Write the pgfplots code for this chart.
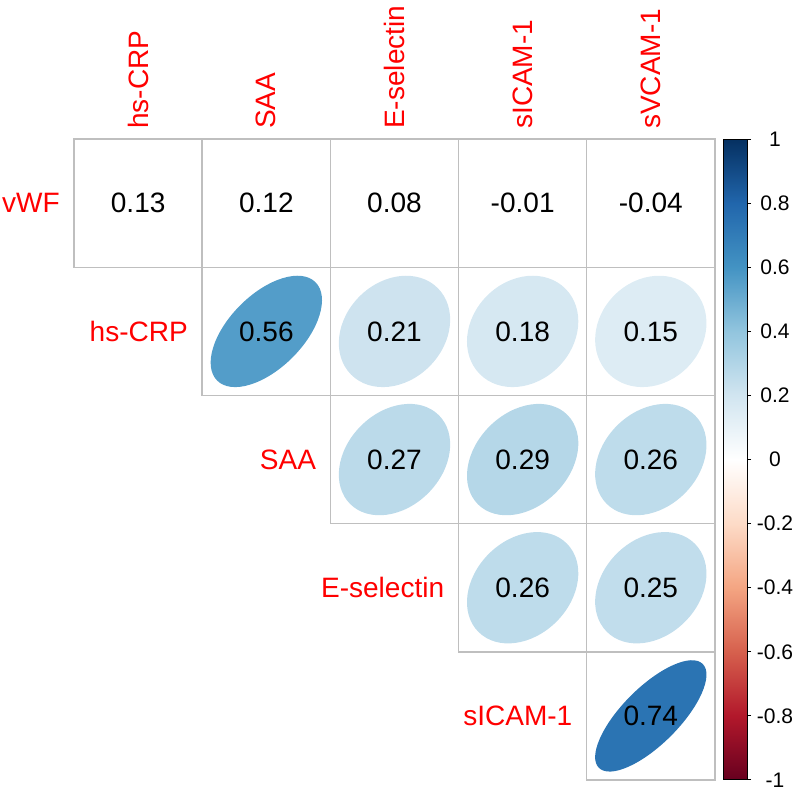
\documentclass[border=0pt]{standalone}
\usepackage{pgfplots}
\pgfplotsset{compat=1.18}
\usepackage{pgfplotstable}
\usepackage{fontspec}
\setmainfont{Liberation Sans}

% corrplot-like ellipse: semi-axes s*sqrt(1+r), s*sqrt(1-r), tilted 45 deg
% r is recovered from the mapped point meta (0..1000 for -1..1)
\pgfdeclareplotmark{corrEllipse}{{%
  \pgfmathsetmacro\rr{\pgfplotspointmetatransformed/500-1}%
  \pgfmathsetmacro\ea{27.8*sqrt(1+\rr)}%
  \pgfmathsetmacro\eb{27.8*sqrt(1-\rr)}%
  \pgftransformrotate{45}%
  \pgfpathellipse{\pgfpointorigin}{\pgfpoint{\ea pt}{0pt}}{\pgfpoint{0pt}{\eb pt}}%
  \pgfusepathqfill}}

% all cells of the upper triangle (cell centres, coefficient)
\pgfplotstableread{
x y r
0.5 0.5 0.13
1.5 0.5 0.12
2.5 0.5 0.08
3.5 0.5 -0.01
4.5 0.5 -0.04
1.5 1.5 0.56
2.5 1.5 0.21
3.5 1.5 0.18
4.5 1.5 0.15
2.5 2.5 0.27
3.5 2.5 0.29
4.5 2.5 0.26
3.5 3.5 0.26
4.5 3.5 0.25
4.5 4.5 0.74
}\cells

% cells that carry an ellipse
\pgfplotstableread{
x y r
1.5 1.5 0.56
2.5 1.5 0.21
3.5 1.5 0.18
4.5 1.5 0.15
2.5 2.5 0.27
3.5 2.5 0.29
4.5 2.5 0.26
3.5 3.5 0.26
4.5 3.5 0.25
4.5 4.5 0.74
}\ells

\pgfplotstableread{
x y label
0 0.5 vWF
1 1.5 hs-CRP
2 2.5 SAA
3 3.5 E-selectin
4 4.5 sICAM-1
}\rowlabels

\pgfplotstableread{
x y label
0.5 0 hs-CRP
1.5 0 SAA
2.5 0 E-selectin
3.5 0 sICAM-1
4.5 0 sVCAM-1
}\collabels

\begin{document}
\begin{tikzpicture}
\begin{axis}[
  name=main,
  x=64pt, y=64pt,
  xmin=0, xmax=5, ymin=0, ymax=5,
  y dir=reverse,
  hide axis, clip=false,
  colormap={RdBu}{rgb255=(103,0,31) rgb255=(178,24,43) rgb255=(214,96,77)
    rgb255=(244,165,130) rgb255=(253,219,199) rgb255=(255,255,255)
    rgb255=(209,229,240) rgb255=(146,197,222) rgb255=(67,147,195)
    rgb255=(33,102,172) rgb255=(5,48,97)},
  point meta min=-1, point meta max=1,
  colorbar right,
  colorbar style={
    width=11.5pt,
    at={(parent axis.north east)}, anchor=north west, xshift=-4pt,
    ytick={-1,-0.8,-0.6,-0.4,-0.2,0,0.2,0.4,0.6,0.8,1},
    ytick pos=right, tick align=outside, major tick length=2pt,
    tick style={black, line width=0.5pt},
    axis line style={black, line width=0.5pt},
    yticklabel style={font=\fontsize{10.5}{12}\selectfont,
      /pgf/number format/assume math mode=true, anchor=center, xshift=12pt},
  },
]
% cell borders
\addplot[only marks, mark=square, mark size=32pt,
  mark options={draw=black!25, line width=0.75pt, fill=none}]
  table[x=x, y=y]{\cells};
% ellipses
\addplot[scatter, only marks, mark=corrEllipse,
  scatter/use mapped color={draw=none, fill=mapped color},
  point meta=explicit]
  table[x=x, y=y, meta=r]{\ells};
% coefficients
\addplot[only marks, mark=none, point meta=explicit,
  nodes near coords={\pgfmathprintnumber[fixed,fixed zerofill,precision=2,assume math mode=true]{\pgfplotspointmeta}},
  nodes near coords style={anchor=center, text=black, font=\fontsize{14}{16}\selectfont}]
  table[x=x, y=y, meta=r]{\cells};
% row labels
\addplot[only marks, mark=none, point meta=explicit symbolic, nodes near coords,
  nodes near coords style={anchor=east, inner sep=0pt, xshift=-7pt, text=red,
    font=\fontsize{14}{16}\selectfont}]
  table[x=x, y=y, meta=label]{\rowlabels};
% column labels
\addplot[only marks, mark=none, point meta=explicit symbolic, nodes near coords,
  nodes near coords style={yshift=5pt, rotate=90, anchor=west, inner sep=0pt, text=red,
    font=\fontsize{14}{16}\selectfont}]
  table[x=x, y=y, meta=label]{\collabels};
\end{axis}
\pgfresetboundingbox
\path[use as bounding box] ([xshift=-37pt,yshift=69.5pt]main.north west)
  rectangle ([xshift=43pt,yshift=-12.5pt]main.south east);
\end{tikzpicture}
\end{document}
